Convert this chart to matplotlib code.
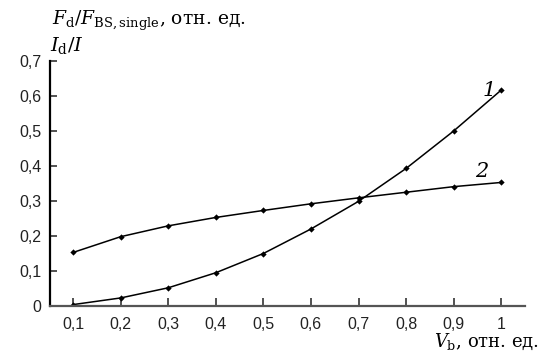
import matplotlib
matplotlib.use("Agg")
import matplotlib.pyplot as plt

plt.rcParams["mathtext.fontset"] = "dejavuserif"

# data
v_b = [0.1, 0.2, 0.3, 0.4, 0.5, 0.6, 0.7, 0.8, 0.9, 1.0]
curve_1 = [0.004, 0.023, 0.052, 0.095, 0.150, 0.220, 0.299, 0.393, 0.500, 0.617]
curve_2 = [0.153, 0.198, 0.229, 0.253, 0.273, 0.292, 0.309, 0.325, 0.341, 0.353]

x_ticks = [0.1, 0.2, 0.3, 0.4, 0.5, 0.6, 0.7, 0.8, 0.9, 1.0]
x_tick_labels = ["0,1", "0,2", "0,3", "0,4", "0,5", "0,6", "0,7", "0,8", "0,9", "1"]
y_ticks = [0, 0.1, 0.2, 0.3, 0.4, 0.5, 0.6, 0.7]
y_tick_labels = ["0", "0,1", "0,2", "0,3", "0,4", "0,5", "0,6", "0,7"]

fig = plt.figure(figsize=(5.41, 3.51), dpi=100)
ax = fig.add_axes([50 / 541, 1 - 306 / 351, 475 / 541, 245 / 351])

for ys in (curve_1, curve_2):
    ax.plot(v_b, ys, color="black", lw=1.1, marker="D", ms=3.2,
            markerfacecolor="black", markeredgewidth=0)

ax.set_xlim(0.0515, 1.05)
ax.set_ylim(0, 0.7)

ax.set_xticks(x_ticks)
ax.set_xticklabels(x_tick_labels)
ax.set_yticks(y_ticks)
ax.set_yticklabels(y_tick_labels)

for side in ("top", "right"):
    ax.spines[side].set_visible(False)
ax.spines["left"].set_linewidth(1.6)
ax.spines["left"].set_color("black")
ax.spines["bottom"].set_linewidth(1.6)
ax.spines["bottom"].set_color("#555555")

ax.tick_params(axis="x", direction="in", length=6, width=1.2, color="#333333",
               pad=8, labelsize=11.5, labelcolor="#222222")
ax.tick_params(axis="y", direction="in", length=5, width=1.2, color="#333333",
               pad=6, labelsize=11.5, labelcolor="#222222")
for lbl in ax.get_xticklabels() + ax.get_yticklabels():
    lbl.set_family("Liberation Sans")

# axis titles
fig.text(52 / 541, 1 - 21 / 351,
         r"$F_{\mathrm{d}}/F_{\mathrm{BS,single}}$, отн. ед.",
         family="DejaVu Serif", fontsize=13.5, va="center", ha="left")
fig.text(50 / 541, 1 - 45 / 351, r"$I_{\mathrm{d}}/I$",
         family="DejaVu Serif", fontsize=14, va="center", ha="left")
fig.text(539 / 541, 1 - 347 / 351, r"$V_{\mathrm{b}}$, отн. ед.",
         family="DejaVu Serif", fontsize=13, va="baseline", ha="right")

# curve numbers
ax.text(0.975, 0.615, "1", fontsize=15, family="DejaVu Serif",
        style="italic", ha="center", va="center")
ax.text(0.96, 0.385, "2", fontsize=15, family="DejaVu Serif",
        style="italic", ha="center", va="center")

fig.savefig("out.png", dpi=100)
